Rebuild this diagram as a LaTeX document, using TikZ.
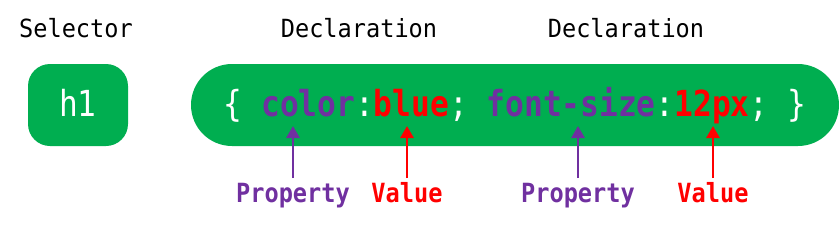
\documentclass[tikz,border=0pt]{standalone}
\usepackage{fontspec}
\usepackage{graphicx}
\setmonofont{DejaVu Sans Mono}
\usetikzlibrary{arrows.meta}
\definecolor{cssgreen}{HTML}{00AE50}
\definecolor{csspurple}{HTML}{7030A0}
\definecolor{cssred}{HTML}{FF0000}
\tikzset{
  heading/.style={font=\ttfamily\fontsize{23.6}{28}\selectfont, text=black, inner sep=0, anchor=base},
  lbl/.style={font=\ttfamily\bfseries\fontsize{23.6}{28}\selectfont, inner sep=0, anchor=base},
  codefont/.style={font=\ttfamily\fontsize{31.2}{36}\selectfont, text=white, inner sep=0},
  pointer/.style={line width=2.8pt, -{Triangle[length=12pt,width=13pt]}},
}
\newcommand{\cprop}[1]{\textcolor{csspurple}{\bfseries #1}}
\newcommand{\cval}[1]{\textcolor{cssred}{\bfseries #1}}
\newcommand{\tallh}[1]{\scalebox{1}[1.06]{#1}}
\newcommand{\talll}[1]{\scalebox{1}[1.12]{#1}}
\newcommand{\tallc}[1]{\scalebox{1}[1.15]{#1}}
\begin{document}
\begin{tikzpicture}[x=1pt,y=-1pt]
\useasboundingbox (0,0) rectangle (839,228);
% boxes
\fill[cssgreen, rounded corners=22pt] (28,64) rectangle (128,146);
\fill[cssgreen, rounded corners=41pt] (191,64) rectangle (839,146);
% headings
\node[heading] (sel) at (76,37) {\tallh{Selector}};
\node[heading] (dec1) at (359,37) {\tallh{Declaration}};
\node[heading] (dec2) at (626,37) {\tallh{Declaration}};
% code
\node[codefont, anchor=base] (h1) at (78,116) {\tallc{h1}};
\node[codefont, anchor=base west] (code) at (223.5,116) {\tallc{\{ \cprop{color}:\cval{blue}; \cprop{font-size}:\cval{12px}; \}}};
% labels
\node[lbl, text=csspurple] (p1) at (293,202) {\talll{Property}};
\node[lbl, text=cssred] (v1) at (407,202) {\talll{Value}};
\node[lbl, text=csspurple] (p2) at (578,202) {\talll{Property}};
\node[lbl, text=cssred] (v2) at (713,202) {\talll{Value}};
\coordinate (t1) at (293,126);
\coordinate (t2) at (407,126);
\coordinate (t3) at (578,126);
\coordinate (t4) at (713,126);
\coordinate (b1) at (293,178);
\coordinate (b2) at (407,178);
\coordinate (b3) at (578,178);
\coordinate (b4) at (713,178);
\draw[pointer, csspurple] (b1) -- (t1);
\draw[pointer, cssred] (b2) -- (t2);
\draw[pointer, csspurple] (b3) -- (t3);
\draw[pointer, cssred] (b4) -- (t4);
\end{tikzpicture}
\end{document}
